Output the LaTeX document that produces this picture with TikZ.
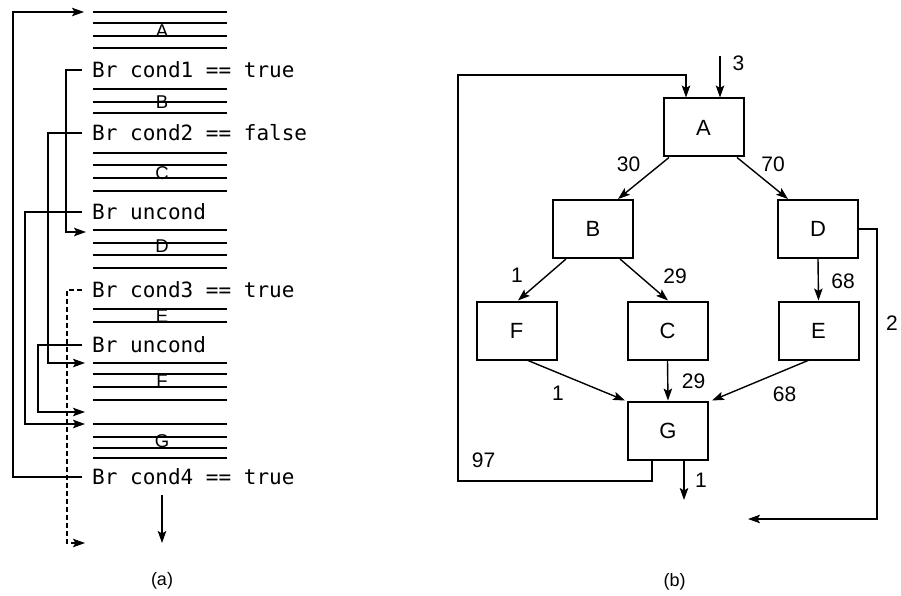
\documentclass[tikz,border=0pt]{standalone}
\usepackage{fontspec}
\setmainfont{Liberation Sans}
\newfontfamily\codefont{DejaVu Sans Mono}
\usetikzlibrary{arrows.meta}
\begin{document}
\begin{tikzpicture}[x=1pt,y=-1pt,
  arrowed/.style={-{Stealth[length=12pt,width=8.5pt,inset=2.5pt]}},
  hline/.style={line width=1.6pt},
  conn/.style={line width=1.3pt},
  codetext/.style={anchor=west, inner xsep=10pt, inner ysep=0pt, text height=15pt, text depth=0pt, font=\codefont\fontsize{21}{24}\selectfont},
  blklabel/.style={inner sep=0pt, font=\fontsize{18.5}{22}\selectfont},
  cfgbox/.style={draw, line width=2pt, minimum width=80pt, minimum height=58pt, inner sep=0pt, font=\fontsize{22}{26}\selectfont},
  numlabel/.style={inner sep=0pt, font=\fontsize{21}{24}\selectfont},
  flow/.style={line width=1.4pt, arrowed},
  caption/.style={inner sep=0pt, font=\fontsize{18}{22}\selectfont},
]
\useasboundingbox (0,0) rectangle (901,596);

% ---------------- (a) ----------------
% block letters
\node[blklabel] (la) at (162,31.5) {A};
\node[blklabel] (lb) at (162,102.5) {B};
\node[blklabel] (lc) at (162,173) {C};
\node[blklabel] (ld) at (162,246.5) {D};
\node[blklabel] (le) at (162,316) {E};
\node[blklabel] (lf) at (162,381) {F};
\node[blklabel] (lg) at (162,441) {G};

% block lines
\foreach \y in {12,23,36,48, 89,102,113, 153,165,178,191, 230,243,255,268, 309,322, 363,374,387,400, 424,437,448,458}
  \draw[hline] (93,\y) -- (227,\y);

% branch instructions
\node[codetext] (c1) at (82,70) {Br cond1 == true};
\node[codetext] (c2) at (82,133) {Br cond2 == false};
\node[codetext] (u1) at (82,212) {Br uncond};
\node[codetext] (c3) at (82,290) {Br cond3 == true};
\node[codetext] (u2) at (82,345) {Br uncond};
\node[codetext] (c4) at (82,477) {Br cond4 == true};

% targets
\coordinate (tA) at (84,12);
\coordinate (tD) at (86,232);
\coordinate (tF) at (85,363);
\coordinate (tG2) at (85,412);
\coordinate (tG) at (85,424);
\coordinate (tX) at (85,543);
\coordinate (d1) at (162,495);
\coordinate (d2) at (162,543);

\draw[conn,arrowed] (c4.west) -- ++(-69,0) |- (tA);
\draw[conn,arrowed] (c1.west) -- ++(-16,0) |- (tD);
\draw[conn,arrowed] (c2.west) -- ++(-34,0) |- (tF);
\draw[conn,arrowed] (u1.west) -- ++(-57,0) |- (tG);
\draw[conn,arrowed,dash pattern=on 5pt off 3pt] (c3.west) -- ++(-15,0) |- (tX);
\draw[conn,arrowed] (u2.west) -- ++(-44,0) |- (tG2);
\draw[conn,arrowed] (d1) -- (d2);

\node[caption] (capa) at (162,581) {(a)};

% ---------------- (b) ----------------
\node[cfgbox] (A) at (703.5,127.5) {A};
\node[cfgbox] (B) at (593,229) {B};
\node[cfgbox] (D) at (818,229) {D};
\node[cfgbox] (F) at (516.5,330.5) {F};
\node[cfgbox] (C) at (667.5,330.5) {C};
\node[cfgbox] (E) at (818.5,330.5) {E};
\node[cfgbox] (G) at (668,430.5) {G};

\coordinate (Ain) at (720,56);
\coordinate (Lb) at (458,481);
\coordinate (Lt) at (458,75);
\coordinate (Dr) at (877,519);
\coordinate (Dend) at (748,519);
\coordinate (Gend) at (684,500);

\draw[flow] (Ain) -- ([xshift=16.5pt]A.north);
\draw[flow] ([xshift=-34.5pt]A.south) -- ([xshift=25pt]B.north);
\draw[flow] ([xshift=33.5pt]A.south) -- ([xshift=-30pt]D.north);
\draw[flow] ([xshift=-27pt]B.south) -- ([xshift=1.5pt]F.north);
\draw[flow] ([xshift=27pt]B.south) -- ([xshift=0.5pt]C.north);
\draw[flow] (D.south) -- (E.north);
\draw[flow] ([xshift=11.5pt]F.south) -- ([xshift=-2pt]G.north west);
\draw[flow] (C.south) -- (G.north);
\draw[flow] ([xshift=-10.5pt]E.south) -- ([xshift=3pt]G.north east);
\draw[flow] ([xshift=-16pt]G.south) |- (Lb) -- (Lt) -| ([xshift=-17.5pt]A.north);
\draw[flow] (D.east) -| (Dr) -- (Dend);
\draw[flow] ([xshift=16pt]G.south) -- (Gend);

\node[numlabel] (n3) at (738.5,63) {3};
\node[numlabel] (n30) at (628.5,164) {30};
\node[numlabel] (n70) at (773,164) {70};
\node[numlabel] (n1a) at (517,275) {1};
\node[numlabel] (n29a) at (675,276) {29};
\node[numlabel] (n68a) at (843,281) {68};
\node[numlabel] (n2) at (892,323) {2};
\node[numlabel] (n1b) at (558,393) {1};
\node[numlabel] (n29b) at (693.5,381) {29};
\node[numlabel] (n68b) at (784.5,394) {68};
\node[numlabel] (n97) at (483.5,460.5) {97};
\node[numlabel] (n1c) at (701,480) {1};

\node[caption] (capb) at (674.5,582) {(b)};
\end{tikzpicture}
\end{document}
